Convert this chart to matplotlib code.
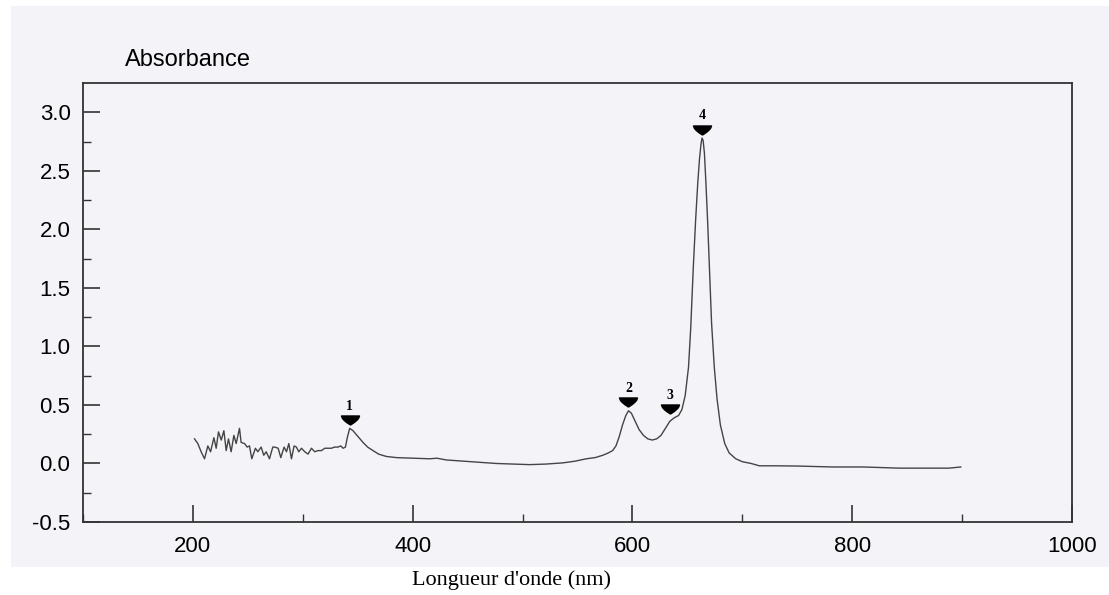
import numpy as np
import matplotlib.pyplot as plt
from matplotlib.patches import Rectangle
from matplotlib.path import Path
import matplotlib.transforms as mtransforms

# =========================
# Data
# =========================
wavelength = [201.5, 204.5, 207.5, 210.6, 213.6, 216.1, 219.1, 221.2, 223.3, 225.8,
              228.2, 230.3, 232.4, 234.8, 237.3, 239.4, 242.4, 243.9, 247.0, 249.4,
              251.5, 253.6, 256.9, 259.1, 262.1, 264.5, 266.7, 269.7, 272.7, 274.5,
              277.6, 280.0, 283.0, 285.2, 287.3, 289.7, 292.1, 294.2, 296.4, 298.8,
              301.8, 304.8, 307.9, 310.9, 313.9, 317.0, 320.0, 323.0, 326.0, 329.0,
              332.1, 334.5, 336.7, 338.8, 340.5, 342.7, 345.7, 350.3, 354.8, 359.0,
              363.9, 369.0, 376.0, 385.2, 400.0, 415.5, 422.0, 430.6, 445.7, 476.0,
              506.4, 521.5, 536.7, 548.0, 558.0, 566.0, 573.0, 578.0, 582.0, 585.0,
              588.0, 591.0, 594.0, 596.4, 599.0, 602.0, 606.0, 610.0, 614.0, 618.0,
              622.0, 626.0, 630.0, 634.0, 638.0, 642.0, 645.0, 648.0, 651.0, 653.0,
              655.4, 657.5, 659.4, 661.0, 662.4, 663.3, 664.3, 665.5, 666.9, 668.5,
              670.0, 672.0, 674.5, 677.0, 680.0, 684.0, 688.0, 694.0, 700.0, 708.0,
              715.5, 730.0, 750.0, 782.0, 810.0, 842.7, 870.0, 888.0, 898.8]
absorbance = [0.21, 0.17, 0.10, 0.04, 0.15, 0.10, 0.22, 0.13, 0.27, 0.20,
              0.28, 0.11, 0.21, 0.10, 0.24, 0.17, 0.30, 0.18, 0.17, 0.14,
              0.15, 0.04, 0.13, 0.10, 0.14, 0.07, 0.10, 0.04, 0.14, 0.14,
              0.13, 0.05, 0.14, 0.10, 0.17, 0.04, 0.15, 0.14, 0.10, 0.13,
              0.10, 0.08, 0.13, 0.10, 0.11, 0.11, 0.13, 0.13, 0.13, 0.14,
              0.14, 0.15, 0.13, 0.14, 0.22, 0.30, 0.28, 0.23, 0.18, 0.14,
              0.11, 0.08, 0.06, 0.05, 0.045, 0.04, 0.045, 0.03, 0.02, 0.0,
              -0.01, -0.005, 0.005, 0.02, 0.04, 0.05, 0.07, 0.09, 0.11, 0.15,
              0.23, 0.33, 0.41, 0.45, 0.43, 0.37, 0.29, 0.24, 0.21, 0.20,
              0.21, 0.24, 0.30, 0.36, 0.39, 0.41, 0.46, 0.58, 0.82, 1.15,
              1.68, 2.08, 2.39, 2.60, 2.73, 2.78, 2.76, 2.65, 2.39, 2.05,
              1.68, 1.20, 0.82, 0.55, 0.33, 0.17, 0.09, 0.04, 0.015, 0.0,
              -0.02, -0.02, -0.022, -0.03, -0.03, -0.04, -0.04, -0.04, -0.03]

peak_wl = [342.7, 596.4, 634.0, 663.3]
peak_abs = [0.30, 0.45, 0.39, 2.78]
peak_labels = ["1", "2", "3", "4"]

xticks = [200, 400, 600, 800, 1000]
yticks = [-0.5, 0.0, 0.5, 1.0, 1.5, 2.0, 2.5, 3.0]

# =========================
# Figure
# =========================
W, H = 1109, 595
fig = plt.figure(figsize=(W / 100, H / 100), dpi=100, facecolor="white")

# scanned paper background (behind the axes)
fig.patches.append(Rectangle((11 / W, (H - 567) / H), 1 - 11 / W, (567 - 6) / H,
                             transform=fig.transFigure, facecolor="#f4f3f7",
                             edgecolor="none", zorder=-10))

ax = fig.add_axes([83 / W, (H - 522) / H, (1072 - 83) / W, (522 - 83) / H])
ax.set_zorder(1)
ax.patch.set_alpha(0)

ax.plot(wavelength, absorbance, color="#444444", lw=1.0)

# peak marker: flat top, bulged sides meeting in a point
xs = np.linspace(1, -1, 21)
verts = [(-1, 0.5)] + [(x, 0.5 - 1.0 * (1 - abs(x)) ** 0.6) for x in xs]
marker = Path(verts + [verts[0]], closed=True)

for wl, a, lab in zip(peak_wl, peak_abs, peak_labels):
    tr = mtransforms.offset_copy(ax.transData, fig=fig, x=0, y=6, units="points")
    ax.plot([wl], [a], marker=marker, markersize=13, color="black", transform=tr,
            clip_on=False)
    ax.annotate(lab, (wl, a), xytext=(0, 16), textcoords="offset points",
                ha="center", va="center", fontsize=10, fontweight="bold",
                family="Liberation Serif")

ax.set_xlim(100, 1000)
ax.set_ylim(-0.5, 3.25)
ax.set_xticks(xticks)
ax.set_xticks(np.arange(100, 1000, 100), minor=True)
ax.set_yticks(yticks)
ax.set_yticks(np.arange(-0.25, 3.25, 0.5), minor=True)
ax.set_yticklabels([f"{v:.1f}" for v in yticks])

ax.tick_params(which="major", direction="in", length=12, width=1.2, color="#333333",
               labelsize=16, pad=9, labelfontfamily="Liberation Sans")
ax.tick_params(which="minor", direction="in", length=6, width=1.0, color="#333333")
ax.tick_params(axis="x", which="major", pad=10)
for s in ax.spines.values():
    s.set_color("#333333")
    s.set_linewidth(1.3)

fig.text(125 / W, 1 - 60 / H, "Absorbance", fontsize=17, family="Liberation Sans",
         ha="left", va="center")
fig.text(511 / W, 1 - 580 / H, "Longueur d'onde (nm)", fontsize=16,
         family="Liberation Serif", ha="center", va="center")

fig.savefig("out.png", dpi=100, facecolor="white")
